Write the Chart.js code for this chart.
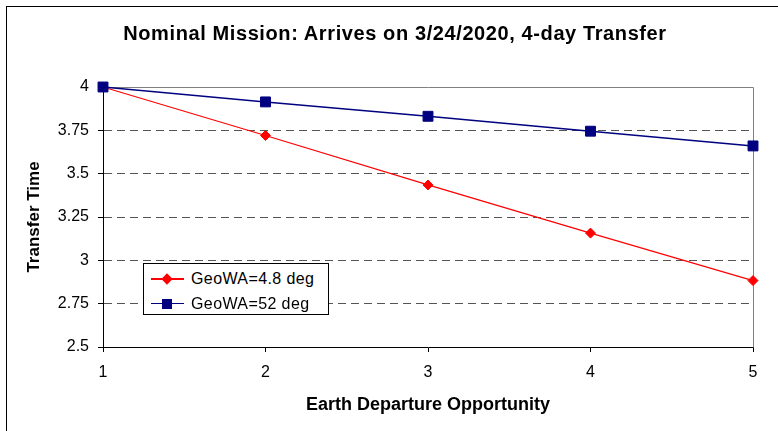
<!DOCTYPE html>
<html>
<head>
<meta charset="utf-8">
<script src="https://cdn.jsdelivr.net/npm/chart.js@4"></script>
<style>
  body { margin: 0; background: #fff; }
  #wrap { position: relative; width: 778px; height: 431px; overflow: hidden; font-family: Arial, "Liberation Sans", sans-serif; }
  #frame { position: absolute; left: 6px; top: 6px; width: 800px; height: 500px; border-left: 1px solid #000; border-top: 1px solid #000; }
  #title { position: absolute; left: 0; width: 790px; top: 22px; text-align: center; font-weight: bold; font-size: 20px; line-height: 22px; letter-spacing: 0.6px; color: #000; }
  #legend { position: absolute; left: 143px; top: 263px; width: 184px; height: 50px; border: 1px solid #000; background: #fff; }
  .row { position: absolute; left: 0; height: 26px; font-size: 16px; line-height: 26px; }
  .row .ln { position: absolute; left: 7px; top: 12px; width: 33px; height: 0; }
  .row .mk { position: absolute; }
  .row .tx { position: absolute; left: 47px; top: 0; white-space: nowrap; letter-spacing: 0.4px; }
  canvas { position: absolute; left: 0; top: 0; }
</style>
</head>
<body>
<div id="wrap">
  <div id="frame"></div>
  <canvas id="c" width="778" height="431"></canvas>
  <div id="title">Nominal Mission: Arrives on 3/24/2020, 4-day Transfer</div>
  <div id="legend"></div>
</div>
<script>
// data
const opportunities = ['1', '2', '3', '4', '5'];
const geoWA48 = [4.0, 3.72, 3.435, 3.157, 2.883];
const geoWA52 = [4.0, 3.914, 3.831, 3.745, 3.66];
const yTicks = [2.5, 2.75, 3, 3.25, 3.5, 3.75, 4];
const yTickLabels = ['2.5', '2.75', '3', '3.25', '3.5', '3.75', '4'];
const seriesNames = ['GeoWA=4.8 deg', 'GeoWA=52 deg'];

const RED = '#ff0000';
const NAVY = '#000080';

// gray border on top and right side of the plot area
const plotFrame = {
  id: 'plotFrame',
  beforeDatasetsDraw(chart) {
    const { ctx, chartArea: a } = chart;
    ctx.save();
    ctx.strokeStyle = '#808080';
    ctx.lineWidth = 1;
    ctx.beginPath();
    ctx.moveTo(Math.round(a.left) + 0.5, Math.round(a.top) + 0.5);
    ctx.lineTo(Math.round(a.right) + 0.5, Math.round(a.top) + 0.5);
    ctx.lineTo(Math.round(a.right) + 0.5, Math.round(a.bottom) + 0.5);
    ctx.stroke();
    ctx.restore();
  }
};

new Chart(document.getElementById('c'), {
  type: 'line',
  data: {
    labels: opportunities,
    datasets: [
      {
        label: seriesNames[0], data: geoWA48, order: 1,
        borderColor: RED, backgroundColor: RED, borderWidth: 1.2,
        pointStyle: 'rectRot', pointRadius: 5, pointHoverRadius: 5,
        pointBackgroundColor: RED, pointBorderColor: RED, pointBorderWidth: 1,
        tension: 0, fill: false, clip: false
      },
      {
        label: seriesNames[1], data: geoWA52, order: 0,
        borderColor: NAVY, backgroundColor: NAVY, borderWidth: 1.5,
        pointStyle: 'rect', pointRadius: 7, pointHoverRadius: 7,
        pointBackgroundColor: NAVY, pointBorderColor: NAVY, pointBorderWidth: 1,
        tension: 0, fill: false, clip: false
      }
    ]
  },
  options: {
    responsive: false,
    animation: false,
    events: [],
    layout: { padding: { left: 0, right: 25, top: 87, bottom: 0 } },
    plugins: { legend: { display: false }, title: { display: false }, tooltip: { enabled: false } },
    scales: {
      x: {
        type: 'category',
        offset: false,
        afterFit(s) { s.height = 84; },
        border: { display: true, color: '#000', width: 1 },
        grid: { drawOnChartArea: false, drawTicks: true, tickLength: 5, tickColor: '#000' },
        ticks: { color: '#000', font: { family: 'Arial', size: 16 }, padding: 11, maxRotation: 0 },
        title: { display: true, text: 'Earth Departure Opportunity', color: '#000',
                 font: { family: 'Arial', size: 18, weight: 'bold' }, padding: { top: 0, bottom: 15 } }
      },
      y: {
        min: 2.5, max: 4,
        afterFit(s) { s.width = 103; },
        afterBuildTicks(s) { s.ticks = yTicks.map(v => ({ value: v })); },
        border: { display: true, color: '#000', width: 1, dash: [8, 5] },
        grid: {
          color: c => (c.tick && (c.tick.value === 2.5 || c.tick.value === 4)) ? 'rgba(0,0,0,0)' : '#555',
          lineWidth: 1, drawTicks: true, tickLength: 5, tickColor: '#000'
        },
        ticks: {
          color: '#000', font: { family: 'Arial', size: 16 }, padding: 9,
          callback: (v) => yTickLabels[yTicks.indexOf(v)]
        },
        title: { display: true, text: 'Transfer Time', color: '#000',
                 font: { family: 'Arial', size: 17, weight: 'bold' }, padding: { top: 24, bottom: 0 } }
      }
    }
  },
  plugins: [plotFrame]
});

// legend box built from the series names and colours
const legend = document.getElementById('legend');
const legendStyles = [
  { color: RED, w: 2, mk: 'width:8px;height:8px;transform:rotate(45deg);left:19px;top:9px;background:' + RED },
  { color: NAVY, w: 1.5, mk: 'width:10px;height:10px;left:18px;top:8px;background:' + NAVY }
];
seriesNames.forEach((name, i) => {
  const row = document.createElement('div');
  row.className = 'row';
  row.style.top = (2 + i * 25) + 'px';
  row.innerHTML = '<div class="ln" style="border-top:' + legendStyles[i].w + 'px solid ' + legendStyles[i].color + '"></div>' +
    '<div class="mk" style="' + legendStyles[i].mk + '"></div>' +
    '<div class="tx">' + name + '</div>';
  legend.appendChild(row);
});
</script>
</body>
</html>
